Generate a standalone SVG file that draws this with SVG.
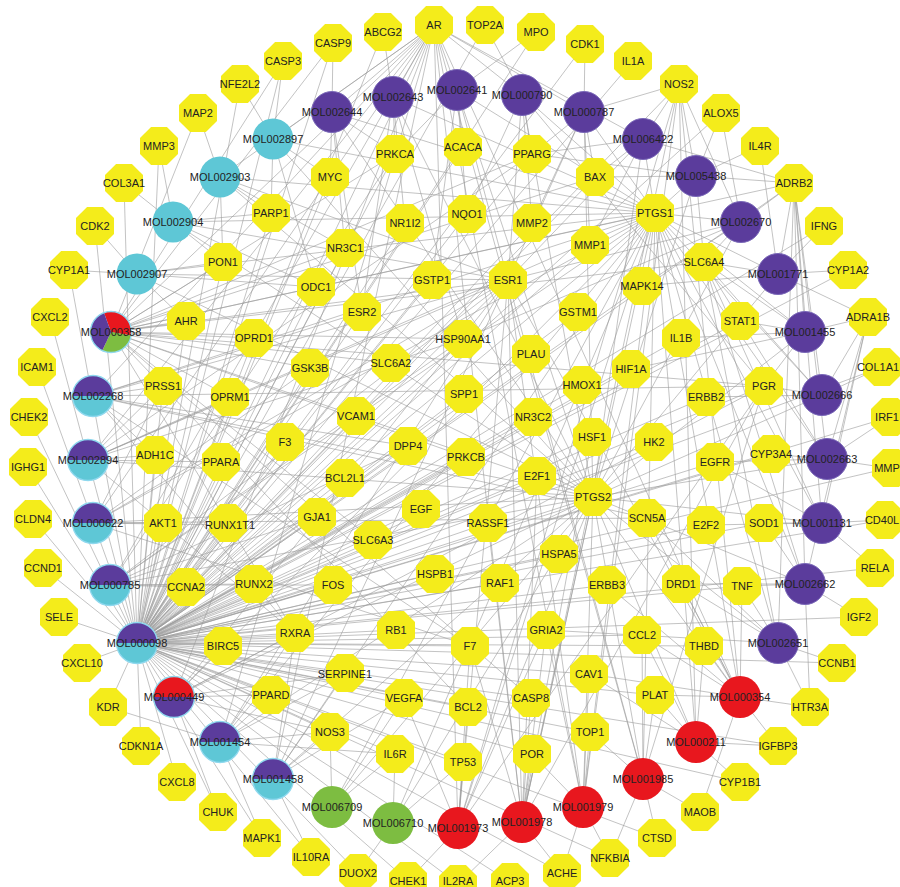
<svg xmlns="http://www.w3.org/2000/svg" xmlns:xlink="http://www.w3.org/1999/xlink" width="900" height="887" viewBox="0 0 900 887">
<style>
text{font-family:"Liberation Sans",Arial,sans-serif;font-size:11px;fill:#222;text-anchor:middle}
.gy use{fill:#f4ec1b}
.e{stroke:#9a9a9a;stroke-width:0.6;fill:none}
.pu{fill:#5b3c9c;stroke:#7a68b8;stroke-width:1}
.pf{fill:#5b3c9c}
.cy{fill:#5ec7d6}
.rd{fill:#e8171e}
.gr{fill:#7dbd41}
.ring{fill:none;stroke:#8fd8ee;stroke-width:1.3}
</style>
<defs>
<polygon id="o" points="19,7.9 7.9,19 -7.9,19 -19,7.9 -19,-7.9 -7.9,-19 7.9,-19 19,-7.9"/>
</defs>
<rect width="900" height="887" fill="#fff"/>
<g id="connectors">
<path id="e-MOL000098" class="e" d="M137 643L434 25M137 643L485 25M137 643L536 32M137 643L585 44M137 643L633 61M137 643L679 84M137 643L721 113M137 643L794 183M137 643L824 226M137 643L848 270M137 643L882 367M137 643L890 417M137 643L889 468M137 643L885 520M137 643L875 568M137 643L859 617M137 643L837 663M137 643L778 746M137 643L740 782M137 643L657 838M137 643L610 858M137 643L562 873M137 643L510 882M137 643L458 884M137 643L408 881M137 643L358 873M137 643L311 857M137 643L262 838M137 643L218 812M137 643L177 782M137 643L141 746M137 643L108 707M137 643L82 663M137 643L59 617M137 643L43 568M137 643L33 519M137 643L28 467M137 643L29 417M137 643L37 367M137 643L50 317M137 643L69 270M137 643L95 226M137 643L124 183M137 643L159 146M137 643L240 84M137 643L283 61M137 643L333 43M137 643L383 32M137 643L395 154M137 643L463 147M137 643L532 154M137 643L330 177M137 643L595 177M137 643L271 213M137 643L405 223M137 643L467 214M137 643L532 223M137 643L655 213M137 643L590 245M137 643L345 248M137 643L223 262M137 643L432 280M137 643L508 280M137 643L316 287M137 643L642 286M137 643L362 312M137 643L578 312M137 643L186 321M137 643L740 321M137 643L254 338M137 643L681 338M137 643L463 339M137 643L531 354M137 643L310 368M137 643L631 369M137 643L582 385M137 643L163 386M137 643L764 386M137 643L464 394M137 643L230 397M137 643L706 397M137 643L356 416M137 643L533 417M137 643L285 442M137 643L408 446M137 643L592 437M137 643L654 442M137 643L771 454M137 643L155 455M137 643L466 457M137 643L221 462M137 643L715 462M137 643L345 478M137 643L537 476M137 643L593 497M137 643L421 509M137 643L317 517M137 643L163 523M137 643L230 525M137 643L488 523M137 643L706 525M137 643L764 523M137 643L559 554M137 643L435 574M137 643L333 585M137 643L186 587M137 643L254 584M137 643L500 583M137 643L607 585M137 643L742 586M137 643L396 630M137 643L295 633M137 643L642 635M137 643L223 646M137 643L470 646M137 643L704 646M137 643L345 674M137 643L589 674M137 643L271 695M137 643L404 698M137 643L531 698M137 643L655 695M137 643L468 707M137 643L330 732M137 643L590 732M137 643L395 754M137 643L463 762M137 643L532 754"/>
<path id="e-MOL000358" class="e" d="M111 332L655 213M111 332L593 497M111 332L764 386M111 332L794 183M111 332L704 262M111 332L373 540M111 332L230 397M111 332L254 338M111 332L395 154M111 332L223 262M111 332L198 113M111 332L595 177M111 332L468 707M111 332L333 43M111 332L283 61M111 332L531 698M111 332L466 457M111 332L186 321M111 332L463 339M111 332L310 368M111 332L532 154M111 332L295 633M111 332L391 363M111 332L345 248M111 332L434 25M111 332L508 280"/>
<path id="e-MOL002268" class="e" d="M93 396L655 213M93 396L593 497M93 396L508 280M93 396L434 25M93 396L764 386M93 396L163 386M93 396L155 455M93 396L470 646M93 396L295 633M93 396L647 518M93 396L408 446M93 396L362 312"/>
<path id="e-MOL002894" class="e" d="M88 460L655 213M88 460L593 497M88 460L508 280M88 460L434 25M88 460L163 386M88 460L155 455M88 460L221 462M88 460L532 154M88 460L295 633M88 460L463 339M88 460L230 397"/>
<path id="e-MOL000622" class="e" d="M93 523L655 213M93 523L593 497M93 523L434 25M93 523L508 280M93 523L163 523M93 523L163 386M93 523L647 518M93 523L470 646M93 523L310 368M93 523L230 525"/>
<path id="e-MOL000785" class="e" d="M110 585L655 213M110 585L593 497M110 585L434 25M110 585L508 280M110 585L186 587M110 585L254 584M110 585L463 339M110 585L395 154M110 585L408 446M110 585L317 517M110 585L333 585"/>
<path id="e-MOL000449" class="e" d="M174 697L655 213M174 697L593 497M174 697L764 386M174 697L434 25M174 697L508 280M174 697L223 646M174 697L271 695M174 697L330 732M174 697L218 812M174 697L345 674M174 697L295 633"/>
<path id="e-MOL001454" class="e" d="M220 742L655 213M220 742L593 497M220 742L434 25M220 742L508 280M220 742L271 695M220 742L330 732M220 742L295 633M220 742L345 674M220 742L395 754M220 742L108 707M220 742L262 838"/>
<path id="e-MOL001458" class="e" d="M273 779L655 213M273 779L593 497M273 779L434 25M273 779L508 280M273 779L330 732M273 779L345 674M273 779L295 633M273 779L311 857M273 779L404 698"/>
<path id="e-MOL006709" class="e" d="M332 807L655 213M332 807L593 497M332 807L330 732M332 807L395 754M332 807L404 698"/>
<path id="e-MOL006710" class="e" d="M393 823L655 213M393 823L593 497M393 823L395 754M393 823L463 762M393 823L358 873"/>
<path id="e-MOL001973" class="e" d="M458 828L655 213M458 828L593 497M458 828L508 280M458 828L434 25M458 828L764 386M458 828L679 84M458 828L468 707M458 828L408 881M458 828L463 762M458 828L470 646M458 828L546 630M458 828L404 698"/>
<path id="e-MOL001978" class="e" d="M522 822L655 213M522 822L593 497M522 822L434 25M522 822L508 280M522 822L679 84M522 822L470 646M522 822L531 698M522 822L532 754M522 822L546 630M522 822L764 386M522 822L562 873M522 822L458 884M522 822L488 523M522 822L537 476M522 822L592 437"/>
<path id="e-MOL001979" class="e" d="M583 807L655 213M583 807L593 497M583 807L434 25M583 807L679 84M583 807L508 280M583 807L590 732M583 807L589 674M583 807L532 754M583 807L610 858M583 807L562 873M583 807L546 630"/>
<path id="e-MOL001985" class="e" d="M643 779L655 213M643 779L593 497M643 779L434 25M643 779L764 386M643 779L508 280M643 779L655 695M643 779L590 732M643 779L700 812M643 779L657 838M643 779L610 858M643 779L642 635"/>
<path id="e-MOL000211" class="e" d="M696 742L655 213M696 742L593 497M696 742L679 84M696 742L655 695M696 742L704 646M696 742L642 635M696 742L778 746M696 742L740 782M696 742L589 674"/>
<path id="e-MOL000354" class="e" d="M740 697L655 213M740 697L593 497M740 697L434 25M740 697L508 280M740 697L679 84M740 697L704 646M740 697L642 635M740 697L655 695M740 697L810 707M740 697L700 812M740 697L778 746M740 697L681 584M740 697L742 586M740 697L589 674M740 697L607 585M740 697L647 518"/>
<path id="e-MOL002651" class="e" d="M778 643L655 213M778 643L593 497M778 643L794 183M778 643L704 262M778 643L647 518M778 643L810 707M778 643L742 586M778 643L681 584M778 643L546 630M778 643L837 663"/>
<path id="e-MOL002662" class="e" d="M805 584L655 213M805 584L593 497M805 584L704 262M805 584L794 183M805 584L868 317M805 584L810 707M805 584L742 586M805 584L764 523M805 584L681 584M805 584L859 617"/>
<path id="e-MOL001131" class="e" d="M822 523L655 213M822 523L593 497M822 523L794 183M822 523L704 262M822 523L868 317M822 523L764 523M822 523L706 525M822 523L715 462M822 523L875 568M822 523L885 520"/>
<path id="e-MOL002663" class="e" d="M827 459L655 213M827 459L593 497M827 459L794 183M827 459L771 454M827 459L715 462M827 459L704 262M827 459L889 468M827 459L868 317M827 459L890 417"/>
<path id="e-MOL002666" class="e" d="M822 395L655 213M822 395L593 497M822 395L794 183M822 395L764 386M822 395L706 397M822 395L704 262M822 395L882 367M822 395L868 317"/>
<path id="e-MOL001455" class="e" d="M805 332L655 213M805 332L593 497M805 332L794 183M805 332L740 321M805 332L681 338M805 332L868 317M805 332L704 262M805 332L764 386M805 332L631 369"/>
<path id="e-MOL001771" class="e" d="M778 274L655 213M778 274L593 497M778 274L794 183M778 274L704 262M778 274L848 270M778 274L824 226M778 274L642 286M778 274L868 317M778 274L760 146"/>
<path id="e-MOL002670" class="e" d="M741 222L655 213M741 222L593 497M741 222L794 183M741 222L704 262M741 222L679 84M741 222L642 286M741 222L463 339M741 222L508 280M741 222L721 113"/>
<path id="e-MOL005438" class="e" d="M696 176L655 213M696 176L593 497M696 176L794 183M696 176L679 84M696 176L595 177M696 176L704 262M696 176L532 154M696 176L760 146M696 176L721 113"/>
<path id="e-MOL006422" class="e" d="M643 139L655 213M643 139L593 497M643 139L794 183M643 139L679 84M643 139L595 177M643 139L532 154M643 139L590 245M643 139L508 280M643 139L434 25"/>
<path id="e-MOL000787" class="e" d="M584 112L655 213M584 112L593 497M584 112L679 84M584 112L434 25M584 112L532 154M584 112L532 223M584 112L590 245M584 112L508 280M584 112L585 44M584 112L595 177"/>
<path id="e-MOL000790" class="e" d="M522 95L655 213M522 95L593 497M522 95L434 25M522 95L532 154M522 95L532 223M522 95L467 214M522 95L508 280M522 95L764 386M522 95L485 25"/>
<path id="e-MOL002641" class="e" d="M457 90L655 213M457 90L593 497M457 90L434 25M457 90L463 147M457 90L467 214M457 90L508 280M457 90L432 280M457 90L395 154M457 90L536 32"/>
<path id="e-MOL002643" class="e" d="M393 97L655 213M393 97L593 497M393 97L434 25M393 97L395 154M393 97L405 223M393 97L362 312M393 97L383 32M393 97L463 339"/>
<path id="e-MOL002644" class="e" d="M332 112L655 213M332 112L593 497M332 112L434 25M332 112L330 177M332 112L395 154M332 112L345 248M332 112L362 312M332 112L333 43"/>
<path id="e-MOL002897" class="e" d="M273 139L655 213M273 139L593 497M273 139L434 25M273 139L271 213M273 139L330 177M273 139L240 84M273 139L316 287M273 139L283 61"/>
<path id="e-MOL002903" class="e" d="M220 177L655 213M220 177L593 497M220 177L434 25M220 177L271 213M220 177L223 262M220 177L508 280M220 177L345 248M220 177L198 113"/>
<path id="e-MOL002904" class="e" d="M173 222L655 213M173 222L593 497M173 222L271 213M173 222L223 262M173 222L159 146M173 222L316 287M173 222L508 280M173 222L124 183"/>
<path id="e-MOL002907" class="e" d="M137 274L655 213M137 274L593 497M137 274L223 262M137 274L186 321M137 274L69 270M137 274L95 226M137 274L508 280M137 274L316 287"/>
</g>
<g id="nodes" class="gy">
<g id="AR"><use href="#o" x="434" y="25"/><text x="434" y="29">AR</text></g>
<g id="TOP2A"><use href="#o" x="485" y="25"/><text x="485" y="29">TOP2A</text></g>
<g id="MPO"><use href="#o" x="536" y="32"/><text x="536" y="36">MPO</text></g>
<g id="CDK1"><use href="#o" x="585" y="44"/><text x="585" y="48">CDK1</text></g>
<g id="IL1A"><use href="#o" x="633" y="61"/><text x="633" y="65">IL1A</text></g>
<g id="NOS2"><use href="#o" x="679" y="84"/><text x="679" y="88">NOS2</text></g>
<g id="ALOX5"><use href="#o" x="721" y="113"/><text x="721" y="117">ALOX5</text></g>
<g id="IL4R"><use href="#o" x="760" y="146"/><text x="760" y="150">IL4R</text></g>
<g id="ADRB2"><use href="#o" x="794" y="183"/><text x="794" y="187">ADRB2</text></g>
<g id="IFNG"><use href="#o" x="824" y="226"/><text x="824" y="230">IFNG</text></g>
<g id="CYP1A2"><use href="#o" x="848" y="270"/><text x="848" y="274">CYP1A2</text></g>
<g id="ADRA1B"><use href="#o" x="868" y="317"/><text x="868" y="321">ADRA1B</text></g>
<g id="COL1A1"><use href="#o" x="882" y="367"/><text x="878" y="371">COL1A1</text></g>
<g id="IRF1"><use href="#o" x="890" y="417"/><text x="887" y="421">IRF1</text></g>
<g id="MMP"><use href="#o" x="891" y="468"/><text x="887" y="472">MMP</text></g>
<g id="CD40L"><use href="#o" x="885" y="520"/><text x="882" y="524">CD40L</text></g>
<g id="RELA"><use href="#o" x="875" y="568"/><text x="875" y="572">RELA</text></g>
<g id="IGF2"><use href="#o" x="859" y="617"/><text x="859" y="621">IGF2</text></g>
<g id="CCNB1"><use href="#o" x="837" y="663"/><text x="837" y="667">CCNB1</text></g>
<g id="HTR3A"><use href="#o" x="810" y="707"/><text x="810" y="711">HTR3A</text></g>
<g id="IGFBP3"><use href="#o" x="778" y="746"/><text x="778" y="750">IGFBP3</text></g>
<g id="CYP1B1"><use href="#o" x="740" y="782"/><text x="740" y="786">CYP1B1</text></g>
<g id="MAOB"><use href="#o" x="700" y="812"/><text x="700" y="816">MAOB</text></g>
<g id="CTSD"><use href="#o" x="657" y="838"/><text x="657" y="842">CTSD</text></g>
<g id="NFKBIA"><use href="#o" x="610" y="858"/><text x="610" y="862">NFKBIA</text></g>
<g id="ACHE"><use href="#o" x="562" y="873"/><text x="562" y="877">ACHE</text></g>
<g id="ACP3"><use href="#o" x="510" y="882"/><text x="510" y="885">ACP3</text></g>
<g id="IL2RA"><use href="#o" x="458" y="884"/><text x="458" y="885">IL2RA</text></g>
<g id="CHEK1"><use href="#o" x="408" y="881"/><text x="408" y="885">CHEK1</text></g>
<g id="DUOX2"><use href="#o" x="358" y="873"/><text x="358" y="877">DUOX2</text></g>
<g id="IL10RA"><use href="#o" x="311" y="857"/><text x="311" y="861">IL10RA</text></g>
<g id="MAPK1"><use href="#o" x="262" y="838"/><text x="262" y="842">MAPK1</text></g>
<g id="CHUK"><use href="#o" x="218" y="812"/><text x="218" y="816">CHUK</text></g>
<g id="CXCL8"><use href="#o" x="177" y="782"/><text x="177" y="786">CXCL8</text></g>
<g id="CDKN1A"><use href="#o" x="141" y="746"/><text x="141" y="750">CDKN1A</text></g>
<g id="KDR"><use href="#o" x="108" y="707"/><text x="108" y="711">KDR</text></g>
<g id="CXCL10"><use href="#o" x="82" y="663"/><text x="82" y="667">CXCL10</text></g>
<g id="SELE"><use href="#o" x="59" y="617"/><text x="59" y="621">SELE</text></g>
<g id="CCND1"><use href="#o" x="43" y="568"/><text x="43" y="572">CCND1</text></g>
<g id="CLDN4"><use href="#o" x="33" y="519"/><text x="33" y="523">CLDN4</text></g>
<g id="IGHG1"><use href="#o" x="28" y="467"/><text x="28" y="471">IGHG1</text></g>
<g id="CHEK2"><use href="#o" x="29" y="417"/><text x="29" y="421">CHEK2</text></g>
<g id="ICAM1"><use href="#o" x="37" y="367"/><text x="37" y="371">ICAM1</text></g>
<g id="CXCL2"><use href="#o" x="50" y="317"/><text x="50" y="321">CXCL2</text></g>
<g id="CYP1A1"><use href="#o" x="69" y="270"/><text x="69" y="274">CYP1A1</text></g>
<g id="CDK2"><use href="#o" x="95" y="226"/><text x="95" y="230">CDK2</text></g>
<g id="COL3A1"><use href="#o" x="124" y="183"/><text x="124" y="187">COL3A1</text></g>
<g id="MMP3"><use href="#o" x="159" y="146"/><text x="159" y="150">MMP3</text></g>
<g id="MAP2"><use href="#o" x="198" y="113"/><text x="198" y="117">MAP2</text></g>
<g id="NFE2L2"><use href="#o" x="240" y="84"/><text x="240" y="88">NFE2L2</text></g>
<g id="CASP3"><use href="#o" x="283" y="61"/><text x="283" y="65">CASP3</text></g>
<g id="CASP9"><use href="#o" x="333" y="43"/><text x="333" y="47">CASP9</text></g>
<g id="ABCG2"><use href="#o" x="383" y="32"/><text x="383" y="36">ABCG2</text></g>
<g id="PRKCA"><use href="#o" x="395" y="154"/><text x="395" y="158">PRKCA</text></g>
<g id="ACACA"><use href="#o" x="463" y="147"/><text x="463" y="151">ACACA</text></g>
<g id="PPARG"><use href="#o" x="532" y="154"/><text x="532" y="158">PPARG</text></g>
<g id="MYC"><use href="#o" x="330" y="177"/><text x="330" y="181">MYC</text></g>
<g id="BAX"><use href="#o" x="595" y="177"/><text x="595" y="181">BAX</text></g>
<g id="PARP1"><use href="#o" x="271" y="213"/><text x="271" y="217">PARP1</text></g>
<g id="NR1I2"><use href="#o" x="405" y="223"/><text x="405" y="227">NR1I2</text></g>
<g id="NQO1"><use href="#o" x="467" y="214"/><text x="467" y="218">NQO1</text></g>
<g id="MMP2"><use href="#o" x="532" y="223"/><text x="532" y="227">MMP2</text></g>
<g id="PTGS1"><use href="#o" x="655" y="213"/><text x="655" y="217">PTGS1</text></g>
<g id="MMP1"><use href="#o" x="590" y="245"/><text x="590" y="249">MMP1</text></g>
<g id="NR3C1"><use href="#o" x="345" y="248"/><text x="345" y="252">NR3C1</text></g>
<g id="PON1"><use href="#o" x="223" y="262"/><text x="223" y="266">PON1</text></g>
<g id="SLC6A4"><use href="#o" x="704" y="262"/><text x="704" y="266">SLC6A4</text></g>
<g id="GSTP1"><use href="#o" x="432" y="280"/><text x="432" y="284">GSTP1</text></g>
<g id="ESR1"><use href="#o" x="508" y="280"/><text x="508" y="284">ESR1</text></g>
<g id="ODC1"><use href="#o" x="316" y="287"/><text x="316" y="291">ODC1</text></g>
<g id="MAPK14"><use href="#o" x="642" y="286"/><text x="642" y="290">MAPK14</text></g>
<g id="ESR2"><use href="#o" x="362" y="312"/><text x="362" y="316">ESR2</text></g>
<g id="GSTM1"><use href="#o" x="578" y="312"/><text x="578" y="316">GSTM1</text></g>
<g id="AHR"><use href="#o" x="186" y="321"/><text x="186" y="325">AHR</text></g>
<g id="STAT1"><use href="#o" x="740" y="321"/><text x="740" y="325">STAT1</text></g>
<g id="OPRD1"><use href="#o" x="254" y="338"/><text x="254" y="342">OPRD1</text></g>
<g id="IL1B"><use href="#o" x="681" y="338"/><text x="681" y="342">IL1B</text></g>
<g id="HSP90AA1"><use href="#o" x="463" y="339"/><text x="463" y="343">HSP90AA1</text></g>
<g id="PLAU"><use href="#o" x="531" y="354"/><text x="531" y="358">PLAU</text></g>
<g id="GSK3B"><use href="#o" x="310" y="368"/><text x="310" y="372">GSK3B</text></g>
<g id="SLC6A2"><use href="#o" x="391" y="363"/><text x="391" y="367">SLC6A2</text></g>
<g id="HIF1A"><use href="#o" x="631" y="369"/><text x="631" y="373">HIF1A</text></g>
<g id="HMOX1"><use href="#o" x="582" y="385"/><text x="582" y="389">HMOX1</text></g>
<g id="PRSS1"><use href="#o" x="163" y="386"/><text x="163" y="390">PRSS1</text></g>
<g id="PGR"><use href="#o" x="764" y="386"/><text x="764" y="390">PGR</text></g>
<g id="SPP1"><use href="#o" x="464" y="394"/><text x="464" y="398">SPP1</text></g>
<g id="OPRM1"><use href="#o" x="230" y="397"/><text x="230" y="401">OPRM1</text></g>
<g id="ERBB2"><use href="#o" x="706" y="397"/><text x="706" y="401">ERBB2</text></g>
<g id="VCAM1"><use href="#o" x="356" y="416"/><text x="356" y="420">VCAM1</text></g>
<g id="NR3C2"><use href="#o" x="533" y="417"/><text x="533" y="421">NR3C2</text></g>
<g id="F3"><use href="#o" x="285" y="442"/><text x="285" y="446">F3</text></g>
<g id="DPP4"><use href="#o" x="408" y="446"/><text x="408" y="450">DPP4</text></g>
<g id="HSF1"><use href="#o" x="592" y="437"/><text x="592" y="441">HSF1</text></g>
<g id="HK2"><use href="#o" x="654" y="442"/><text x="654" y="446">HK2</text></g>
<g id="CYP3A4"><use href="#o" x="771" y="454"/><text x="771" y="458">CYP3A4</text></g>
<g id="ADH1C"><use href="#o" x="155" y="455"/><text x="155" y="459">ADH1C</text></g>
<g id="PRKCB"><use href="#o" x="466" y="457"/><text x="466" y="461">PRKCB</text></g>
<g id="PPARA"><use href="#o" x="221" y="462"/><text x="221" y="466">PPARA</text></g>
<g id="EGFR"><use href="#o" x="715" y="462"/><text x="715" y="466">EGFR</text></g>
<g id="BCL2L1"><use href="#o" x="345" y="478"/><text x="345" y="482">BCL2L1</text></g>
<g id="E2F1"><use href="#o" x="537" y="476"/><text x="537" y="480">E2F1</text></g>
<g id="PTGS2"><use href="#o" x="593" y="497"/><text x="593" y="501">PTGS2</text></g>
<g id="EGF"><use href="#o" x="421" y="509"/><text x="421" y="513">EGF</text></g>
<g id="GJA1"><use href="#o" x="317" y="517"/><text x="317" y="521">GJA1</text></g>
<g id="AKT1"><use href="#o" x="163" y="523"/><text x="163" y="527">AKT1</text></g>
<g id="RUNX1T1"><use href="#o" x="228" y="523"/><text x="230" y="529">RUNX1T1</text></g>
<g id="RASSF1"><use href="#o" x="488" y="523"/><text x="488" y="527">RASSF1</text></g>
<g id="SCN5A"><use href="#o" x="647" y="518"/><text x="647" y="522">SCN5A</text></g>
<g id="E2F2"><use href="#o" x="706" y="525"/><text x="706" y="529">E2F2</text></g>
<g id="SOD1"><use href="#o" x="764" y="523"/><text x="764" y="527">SOD1</text></g>
<g id="SLC6A3"><use href="#o" x="373" y="540"/><text x="373" y="544">SLC6A3</text></g>
<g id="HSPA5"><use href="#o" x="559" y="554"/><text x="559" y="558">HSPA5</text></g>
<g id="HSPB1"><use href="#o" x="435" y="574"/><text x="435" y="578">HSPB1</text></g>
<g id="FOS"><use href="#o" x="333" y="585"/><text x="333" y="589">FOS</text></g>
<g id="CCNA2"><use href="#o" x="186" y="587"/><text x="186" y="591">CCNA2</text></g>
<g id="RUNX2"><use href="#o" x="254" y="584"/><text x="254" y="588">RUNX2</text></g>
<g id="RAF1"><use href="#o" x="500" y="583"/><text x="500" y="587">RAF1</text></g>
<g id="ERBB3"><use href="#o" x="607" y="585"/><text x="607" y="589">ERBB3</text></g>
<g id="DRD1"><use href="#o" x="681" y="584"/><text x="681" y="588">DRD1</text></g>
<g id="TNF"><use href="#o" x="742" y="586"/><text x="742" y="590">TNF</text></g>
<g id="RB1"><use href="#o" x="396" y="630"/><text x="396" y="634">RB1</text></g>
<g id="RXRA"><use href="#o" x="295" y="633"/><text x="295" y="637">RXRA</text></g>
<g id="GRIA2"><use href="#o" x="546" y="630"/><text x="546" y="634">GRIA2</text></g>
<g id="CCL2"><use href="#o" x="642" y="635"/><text x="642" y="639">CCL2</text></g>
<g id="BIRC5"><use href="#o" x="223" y="646"/><text x="223" y="650">BIRC5</text></g>
<g id="F7"><use href="#o" x="470" y="646"/><text x="470" y="650">F7</text></g>
<g id="THBD"><use href="#o" x="704" y="646"/><text x="704" y="650">THBD</text></g>
<g id="SERPINE1"><use href="#o" x="345" y="673"/><text x="345" y="678">SERPINE1</text></g>
<g id="CAV1"><use href="#o" x="589" y="674"/><text x="589" y="678">CAV1</text></g>
<g id="PPARD"><use href="#o" x="271" y="695"/><text x="271" y="699">PPARD</text></g>
<g id="VEGFA"><use href="#o" x="404" y="698"/><text x="404" y="702">VEGFA</text></g>
<g id="CASP8"><use href="#o" x="531" y="698"/><text x="531" y="702">CASP8</text></g>
<g id="PLAT"><use href="#o" x="655" y="695"/><text x="655" y="699">PLAT</text></g>
<g id="BCL2"><use href="#o" x="468" y="707"/><text x="468" y="711">BCL2</text></g>
<g id="NOS3"><use href="#o" x="330" y="732"/><text x="330" y="736">NOS3</text></g>
<g id="TOP1"><use href="#o" x="590" y="732"/><text x="590" y="736">TOP1</text></g>
<g id="IL6R"><use href="#o" x="395" y="754"/><text x="395" y="758">IL6R</text></g>
<g id="TP53"><use href="#o" x="463" y="762"/><text x="463" y="766">TP53</text></g>
<g id="POR"><use href="#o" x="532" y="754"/><text x="532" y="758">POR</text></g>
</g>
<g id="compounds">
<g id="MOL002897"><circle cx="273" cy="139" r="20.5" class="cy"/><text x="273" y="143">MOL002897</text></g>
<g id="MOL002903"><circle cx="220" cy="177" r="20.5" class="cy"/><text x="220" y="181">MOL002903</text></g>
<g id="MOL002904"><circle cx="173" cy="222" r="20.5" class="cy"/><text x="173" y="226">MOL002904</text></g>
<g id="MOL002907"><circle cx="137" cy="274" r="20.5" class="cy"/><text x="137" y="278">MOL002907</text></g>
<g id="MOL002644"><circle cx="332" cy="112" r="20.5" class="pu"/><text x="332" y="116">MOL002644</text></g>
<g id="MOL002643"><circle cx="393" cy="97" r="20.5" class="pu"/><text x="393" y="101">MOL002643</text></g>
<g id="MOL002641"><circle cx="457" cy="90" r="20.5" class="pu"/><text x="457" y="94">MOL002641</text></g>
<g id="MOL000790"><circle cx="522" cy="95" r="20.5" class="pu"/><text x="522" y="99">MOL000790</text></g>
<g id="MOL000787"><circle cx="584" cy="112" r="20.5" class="pu"/><text x="584" y="116">MOL000787</text></g>
<g id="MOL006422"><circle cx="643" cy="139" r="20.5" class="pu"/><text x="643" y="143">MOL006422</text></g>
<g id="MOL005438"><circle cx="696" cy="176" r="20.5" class="pu"/><text x="696" y="180">MOL005438</text></g>
<g id="MOL002670"><circle cx="741" cy="222" r="20.5" class="pu"/><text x="741" y="226">MOL002670</text></g>
<g id="MOL001771"><circle cx="778" cy="274" r="20.5" class="pu"/><text x="778" y="278">MOL001771</text></g>
<g id="MOL001455"><circle cx="805" cy="332" r="20.5" class="pu"/><text x="805" y="336">MOL001455</text></g>
<g id="MOL002666"><circle cx="822" cy="395" r="20.5" class="pu"/><text x="822" y="399">MOL002666</text></g>
<g id="MOL002663"><circle cx="827" cy="459" r="20.5" class="pu"/><text x="827" y="463">MOL002663</text></g>
<g id="MOL001131"><circle cx="822" cy="523" r="20.5" class="pu"/><text x="822" y="527">MOL001131</text></g>
<g id="MOL002662"><circle cx="805" cy="584" r="20.5" class="pu"/><text x="805" y="588">MOL002662</text></g>
<g id="MOL002651"><circle cx="778" cy="643" r="20.5" class="pu"/><text x="778" y="647">MOL002651</text></g>
<g id="MOL000354"><circle cx="740" cy="697" r="21" class="rd"/><text x="740" y="701">MOL000354</text></g>
<g id="MOL000211"><circle cx="696" cy="742" r="21" class="rd"/><text x="696" y="746">MOL000211</text></g>
<g id="MOL001985"><circle cx="643" cy="779" r="21" class="rd"/><text x="643" y="783">MOL001985</text></g>
<g id="MOL001979"><circle cx="583" cy="807" r="21" class="rd"/><text x="583" y="811">MOL001979</text></g>
<g id="MOL001978"><circle cx="522" cy="822" r="21" class="rd"/><text x="522" y="826">MOL001978</text></g>
<g id="MOL001973"><circle cx="458" cy="828" r="21" class="rd"/><text x="458" y="832">MOL001973</text></g>
<g id="MOL006710"><circle cx="393" cy="823" r="21" class="gr"/><text x="393" y="827">MOL006710</text></g>
<g id="MOL006709"><circle cx="332" cy="807" r="21" class="gr"/><text x="332" y="811">MOL006709</text></g>
<g id="MOL001458"><circle cx="273" cy="779" r="20.5" class="cy"/><path class="pf" d="M252.5 779A20.5 20.5 0 0 1 293.5 779Z"/><circle cx="273" cy="779" r="20.5" class="ring"/><text x="273" y="783">MOL001458</text></g>
<g id="MOL001454"><circle cx="220" cy="742" r="20.5" class="cy"/><path class="pf" d="M199.5 742A20.5 20.5 0 0 1 240.5 742Z"/><circle cx="220" cy="742" r="20.5" class="ring"/><text x="220" y="746">MOL001454</text></g>
<g id="MOL000449"><circle cx="174" cy="697" r="20.5" class="pf"/><path class="rd" d="M153.5 697A20.5 20.5 0 0 1 194.5 697Z"/><circle cx="174" cy="697" r="20.5" class="ring"/><text x="174" y="701">MOL000449</text></g>
<g id="MOL000098"><circle cx="137" cy="643" r="20.5" class="cy"/><path class="pf" d="M116.5 643A20.5 20.5 0 0 1 157.5 643Z"/><circle cx="137" cy="643" r="20.5" class="ring"/><text x="137" y="647">MOL000098</text></g>
<g id="MOL000785"><circle cx="110" cy="585" r="20.5" class="cy"/><path class="pf" d="M89.5 585A20.5 20.5 0 0 1 130.5 585Z"/><circle cx="110" cy="585" r="20.5" class="ring"/><text x="110" y="589">MOL000785</text></g>
<g id="MOL000622"><circle cx="93" cy="523" r="20.5" class="cy"/><path class="pf" d="M72.5 523A20.5 20.5 0 0 1 113.5 523Z"/><circle cx="93" cy="523" r="20.5" class="ring"/><text x="93" y="527">MOL000622</text></g>
<g id="MOL002894"><circle cx="88" cy="460" r="20.5" class="cy"/><path class="pf" d="M67.5 460A20.5 20.5 0 0 1 108.5 460Z"/><circle cx="88" cy="460" r="20.5" class="ring"/><text x="88" y="464">MOL002894</text></g>
<g id="MOL002268"><circle cx="93" cy="396" r="20.5" class="cy"/><path class="pf" d="M72.5 396A20.5 20.5 0 0 1 113.5 396Z"/><circle cx="93" cy="396" r="20.5" class="ring"/><text x="93" y="400">MOL002268</text></g>
<g id="MOL000358"><path class="rd" d="M111 332L104 312.7A20.5 20.5 0 0 1 131.2 335.6Z"/><path class="gr" d="M111 332L131.2 335.6A20.5 20.5 0 0 1 102.3 350.6Z"/><path class="pf" d="M111 332L102.3 350.6A20.5 20.5 0 0 1 104 312.7Z"/><circle cx="111" cy="332" r="20.5" class="ring"/><text x="111" y="336">MOL000358</text></g>
</g>
</svg>
